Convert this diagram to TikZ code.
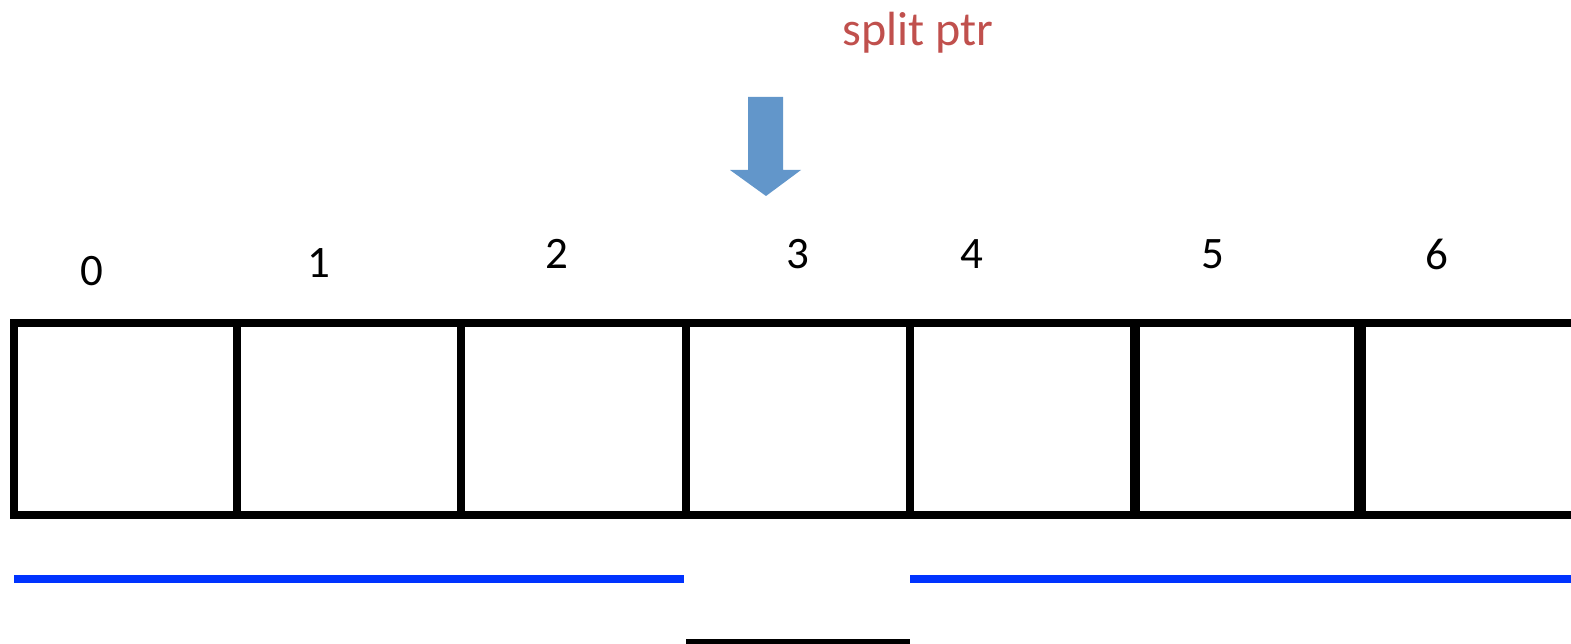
\documentclass[tikz,border=0pt]{standalone}
\usepackage{fontspec}
\setmainfont{Carlito}
\definecolor{ptrred}{RGB}{192,80,77}
\definecolor{arrowblue}{RGB}{98,150,202}
\definecolor{lineblue}{RGB}{0,51,255}
\begin{document}
\begin{tikzpicture}[x=1pt,y=-1pt,
  idxlabel/.style={inner sep=0pt,font=\fontsize{45}{50}\selectfont},
  gridline/.style={line width=8pt,black},
  rangeline/.style={line width=8pt,lineblue},
  ]
\useasboundingbox (0,0) rectangle (1571,644);
\clip (0,0) rectangle (1571,644);
% label
\node[anchor=base,inner sep=0pt,text=ptrred,font=\fontsize{48}{54}\selectfont] (lbl) at (918,46) {split ptr};
% arrow
\fill[arrowblue] (748,97) -- (783,97) -- (783,170) -- (801,170) -- (766,196) -- (730,170) -- (748,170) -- cycle;
% indices
\node[idxlabel] (n0) at (92,271) {0};
\node[idxlabel] (n1) at (319,263) {1};
\node[idxlabel] (n2) at (557,254) {2};
\node[idxlabel] (n3) at (798,254) {3};
\node[idxlabel] (n4) at (972,254) {4};
\node[idxlabel] (n5) at (1213,254) {5};
\node[idxlabel] (n6) at (1437,254) {6};
% array
\draw[gridline] (14,323) -- (1580,323);
\draw[gridline] (14,515) -- (1580,515);
\draw[gridline,line cap=rect] (14,323) -- (14,515);
\draw[gridline] (237,323) -- (237,515);
\draw[gridline] (461,323) -- (461,515);
\draw[gridline] (686,323) -- (686,515);
\draw[gridline] (910,323) -- (910,515);
\draw[gridline,line width=10pt] (1135,323) -- (1135,515);
\draw[gridline,line width=12pt] (1360,323) -- (1360,515);
% ranges
\draw[rangeline] (14,579) -- (684,579);
\draw[rangeline] (910,579) -- (1580,579);
\draw[gridline] (686,643) -- (910,643);
\end{tikzpicture}
\end{document}
